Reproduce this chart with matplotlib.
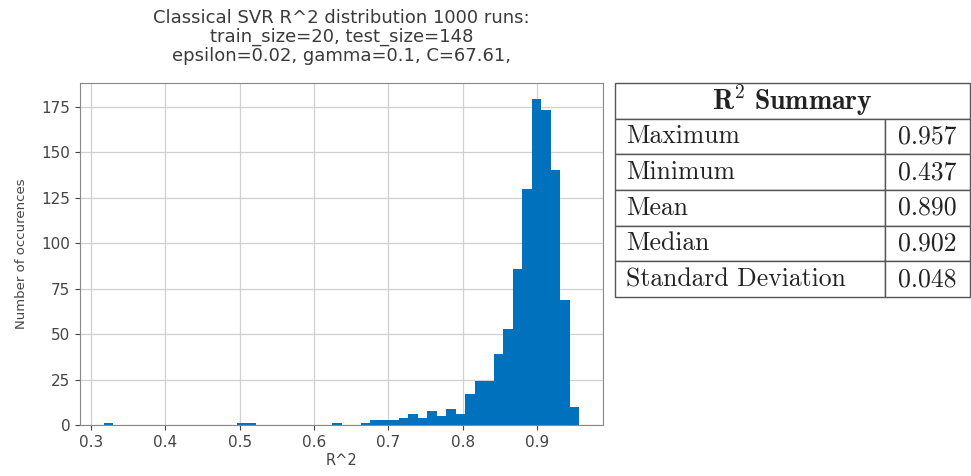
"""Classical SVR R^2 histogram with a summary table."""
import matplotlib
matplotlib.use("Agg")
import matplotlib.pyplot as plt
import numpy as np

BAR = "#0072bd"
EDGE = "#555555"

# histogram: 50 bins between the lowest and highest R^2 seen
R2_LOW = 0.317
R2_HIGH = 0.957
N_BINS = 50
COUNTS = [
    1, 0, 0, 0, 0, 0, 0, 0, 0, 0,
    0, 0, 0, 0, 1, 1, 0, 0, 0, 0,
    0, 0, 0, 0, 1, 0, 0, 1, 3, 3,
    3, 4, 6, 4, 8, 5, 9, 6, 17, 24,
    24, 39, 53, 86, 130, 179, 173, 140, 69, 10,
]

STAT_NAMES = ["Maximum", "Minimum", "Mean", "Median", "Standard Deviation"]
STAT_VALUES = [0.957, 0.437, 0.890, 0.902, 0.048]

TITLE = ("Classical SVR R^2 distribution 1000 runs:\n"
         "train_size=20, test_size=148\n"
         "epsilon=0.02, gamma=0.1, C=67.61,")

plt.rcParams["mathtext.fontset"] = "cm"

fig = plt.figure(figsize=(9.71, 4.76), dpi=100)

ax = fig.add_axes([0.0824, 0.107, 0.5386, 0.7185])
edges = np.linspace(R2_LOW, R2_HIGH, N_BINS + 1)
ax.hist(edges[:-1], bins=edges, weights=COUNTS, color=BAR, zorder=2)
ax.grid(True, color="#d0d0d0", linewidth=0.9, zorder=0)
ax.set_axisbelow(True)
for s in ax.spines.values():
    s.set_color("#888888")
ax.tick_params(colors="#444444", labelsize=11)
ax.set_xticks([0.3, 0.4, 0.5, 0.6, 0.7, 0.8, 0.9])
ax.set_yticks([0, 25, 50, 75, 100, 125, 150, 175])
ax.set_xlabel("R^2", fontsize=10.5, color="#444444", labelpad=2)
ax.set_ylabel("Number of occurences", fontsize=9.5, color="#444444", labelpad=10)
ax.set_title(TITLE, fontsize=13, color="#3a3a3a", pad=16, linespacing=1.05)

# summary table, header drawn as its own one-cell table so it spans both columns
tax = fig.add_axes([0.6334, 0.376, 0.3656, 0.4496])
tax.axis("off")

head = tax.table(cellText=[[r"$\mathbf{R^2\ Summary}$"]], cellLoc="center",
                 bbox=[0, 5 / 6, 1, 1 / 6])
body = tax.table(cellText=[[n, f"{v:.3f}"] for n, v in zip(STAT_NAMES, STAT_VALUES)],
                 colWidths=[0.76, 0.24], cellLoc="center", bbox=[0, 0, 1, 5 / 6])

for t, size in ((head, 20), (body, 18.5)):
    t.auto_set_font_size(False)
    for (r, c), cell in t.get_celld().items():
        cell.set_edgecolor(EDGE)
        cell.set_linewidth(1.0)
        txt = cell.get_text()
        txt.set_fontsize(size)
        txt.set_color("#222222")
        if t is body:
            txt.set_family("cmr10")
            if c == 0:
                cell.PAD = 0.04
                txt.set_horizontalalignment("left")
                cell._loc = "left"

fig.savefig("out.png", dpi=100)
